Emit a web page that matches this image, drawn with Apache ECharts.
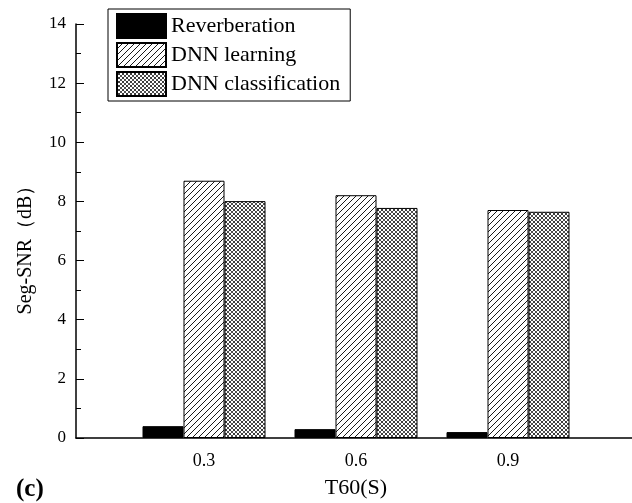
<!DOCTYPE html>
<html lang="en">
  <head>
    <meta charset="UTF-8" />
    <title>Seg-SNR</title>
    <script src="https://cdn.jsdelivr.net/npm/echarts@6/dist/echarts.min.js"></script>
    <style>
      html,
      body {
        margin: 0;
        background: #fff;
      }
      #main {
        width: 632px;
        height: 503px;
      }
    </style>
  </head>
  <body>
    <div id="main"></div>
    <script>
      // data
      const t60 = ["0.3", "0.6", "0.9"];
      const reverberation = [0.4, 0.3, 0.2];
      const dnnLearning = [8.7, 8.21, 7.71];
      const dnnClassification = [8.01, 7.78, 7.65];
      const yTicks = { min: 0, max: 14, step: 2 };

      const serif = "Liberation Serif";

      // hatch "/" lines
      const makeHatch = () => {
        const c = document.createElement("canvas");
        c.width = 6;
        c.height = 6;
        const ctx = c.getContext("2d");
        ctx.fillStyle = "#fff";
        ctx.fillRect(0, 0, 6, 6);
        ctx.strokeStyle = "#000";
        ctx.lineWidth = 0.9;
        ctx.beginPath();
        for (let k = -6; k <= 12; k += 6) {
          ctx.moveTo(k, 6);
          ctx.lineTo(k + 6, 0);
        }
        ctx.stroke();
        return c;
      };

      // fine cross hatch
      const makeCross = () => {
        const c = document.createElement("canvas");
        c.width = 4;
        c.height = 4;
        const ctx = c.getContext("2d");
        ctx.fillStyle = "#fff";
        ctx.fillRect(0, 0, 4, 4);
        ctx.strokeStyle = "#222";
        ctx.lineWidth = 0.8;
        ctx.beginPath();
        for (let k = -4; k <= 8; k += 4) {
          ctx.moveTo(k, 4);
          ctx.lineTo(k + 4, 0);
          ctx.moveTo(k, 0);
          ctx.lineTo(k + 4, 4);
        }
        ctx.stroke();
        ctx.fillStyle = "#000";
        ctx.fillRect(1.5, 1.5, 1, 1);
        return c;
      };

      const hatch = { image: makeHatch(), repeat: "repeat" };
      const cross = { image: makeCross(), repeat: "repeat" };

      const barStyle = (color) => ({
        color,
        borderColor: "#000",
        borderWidth: 1,
      });

      const option = {
        backgroundColor: "#fff",
        animation: false,
        textStyle: { fontFamily: serif, color: "#000" },
        title: {
          text: "(c)",
          left: 11,
          top: 472,
          textStyle: {
            fontFamily: serif,
            fontWeight: "bold",
            fontSize: 25,
            color: "#000",
          },
        },
        legend: {
          orient: "vertical",
          left: 108,
          top: 9,
          padding: [4, 10, 4, 8],
          icon: "rect",
          itemWidth: 49,
          itemHeight: 24,
          itemGap: 3,
          borderColor: "#000",
          borderWidth: 1,
          textStyle: {
            fontFamily: serif,
            fontSize: 22,
            lineHeight: 24,
            color: "#000",
          },
          data: ["Reverberation", "DNN learning", "DNN classification"],
        },
        grid: [
          { left: 76, right: 0, top: 24, bottom: 65, outerBoundsMode: "none" },
          { left: 128, right: 48, top: 24, bottom: 65, outerBoundsMode: "none" },
        ],
        xAxis: [
          {
            gridIndex: 0,
            type: "value",
            min: 0,
            max: 1,
            axisLine: { lineStyle: { color: "#000", width: 1.5 } },
            axisTick: { show: false },
            axisLabel: { show: false },
            splitLine: { show: false },
          },
          {
            gridIndex: 1,
            type: "category",
            data: t60,
            z: 10,
            axisLine: { show: false },
            axisTick: {
              inside: true,
              alignWithLabel: true,
              length: 5,
              lineStyle: { color: "#000" },
            },
            axisLabel: {
              margin: 14,
              fontFamily: serif,
              fontSize: 18,
              color: "#000",
            },
            name: "T60(S)",
            nameLocation: "middle",
            nameGap: 39,
            nameTextStyle: { fontFamily: serif, fontSize: 22, color: "#000" },
          },
        ],
        yAxis: [
          {
            gridIndex: 0,
            type: "value",
            min: yTicks.min,
            max: yTicks.max,
            interval: yTicks.step,
            axisLine: { show: true, lineStyle: { color: "#000", width: 1.5 } },
            axisTick: {
              show: true,
              inside: true,
              length: 8,
              lineStyle: { color: "#000" },
            },
            minorTick: {
              show: true,
              splitNumber: 2,
              length: 5,
              lineStyle: { color: "#000" },
            },
            splitLine: { show: false },
            axisLabel: {
              margin: 10,
              fontFamily: serif,
              fontSize: 17,
              color: "#000",
            },
            name: "Seg-SNR（dB）",
            nameLocation: "middle",
            nameGap: 40,
            nameTextStyle: {
              fontFamily: serif,
              fontSize: 20,
              color: "#000",
              padding: [0, 0, 0, -28],
            },
          },
          {
            gridIndex: 1,
            type: "value",
            min: yTicks.min,
            max: yTicks.max,
            show: false,
          },
        ],
        series: [
          {
            name: "Reverberation",
            type: "bar",
            xAxisIndex: 1,
            yAxisIndex: 1,
            barWidth: 41,
            barGap: "0%",
            itemStyle: barStyle("#000"),
            data: reverberation,
          },
          {
            name: "DNN learning",
            type: "bar",
            xAxisIndex: 1,
            yAxisIndex: 1,
            barWidth: 41,
            barGap: "0%",
            itemStyle: barStyle(hatch),
            data: dnnLearning,
          },
          {
            name: "DNN classification",
            type: "bar",
            xAxisIndex: 1,
            yAxisIndex: 1,
            barWidth: 41,
            barGap: "0%",
            itemStyle: barStyle(cross),
            data: dnnClassification,
          },
        ],
      };

      const chart = echarts.init(document.getElementById("main"));
      chart.setOption(option);
    </script>
  </body>
</html>
